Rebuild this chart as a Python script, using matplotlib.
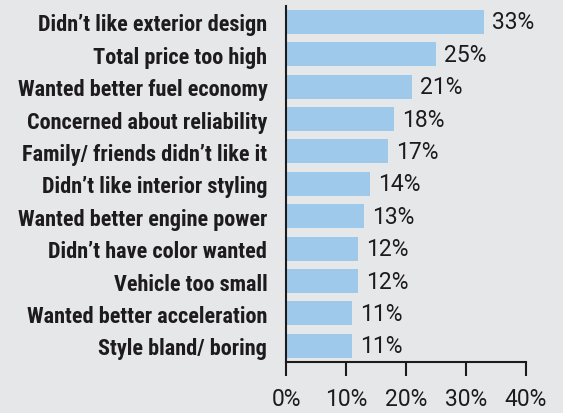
import matplotlib
matplotlib.use('Agg')
import matplotlib.pyplot as plt

reasons = ["Didn\u2019t like exterior design", "Total price too high",
           "Wanted better fuel economy", "Concerned about reliability",
           "Family/ friends didn\u2019t like it", "Didn\u2019t like interior styling",
           "Wanted better engine power", "Didn\u2019t have color wanted",
           "Vehicle too small", "Wanted better acceleration", "Style bland/ boring"]
percents = [33, 25, 21, 18, 17, 14, 13, 12, 12, 11, 11]
xticks = [0, 10, 20, 30, 40]
xtick_labels = ["0%", "10%", "20%", "30%", "40%"]

plt.rcParams['font.family'] = ['Roboto', 'DejaVu Sans']

bg = '#e6e7e9'
bar_color = '#9ec9eb'
ink = '#1e1b1c'

fig = plt.figure(figsize=(5.63, 4.14), dpi=100, facecolor=bg)
ax = fig.add_axes([0.508, 0.123, 0.426, 0.861], facecolor=bg)

y = list(range(len(reasons)))
ax.barh(y, percents, height=0.74, color=bar_color)
for yi, p in zip(y, percents):
    ax.text(p + 1.3, yi, f"{p}%", va='center', ha='left', fontsize=16.5, color=ink)

ax.set_ylim(len(reasons) - 0.5, -0.5)
ax.set_xlim(0, 40)
ax.set_yticks(y)
ax.set_yticklabels(reasons, fontsize=16, fontweight='bold', color=ink,
                   family=['Roboto Condensed', 'DejaVu Sans'])
ax.set_xticks(xticks)
ax.set_xticklabels(xtick_labels, fontsize=16.5, color=ink)
ax.tick_params(axis='y', length=0, pad=13.5)
ax.tick_params(axis='x', length=10, width=1.5, color=ink, pad=8)
for s in ['top', 'right']:
    ax.spines[s].set_visible(False)
for s in ['left', 'bottom']:
    ax.spines[s].set_linewidth(1.5)
    ax.spines[s].set_color(ink)

fig.savefig('out.png', dpi=100, facecolor=bg)
